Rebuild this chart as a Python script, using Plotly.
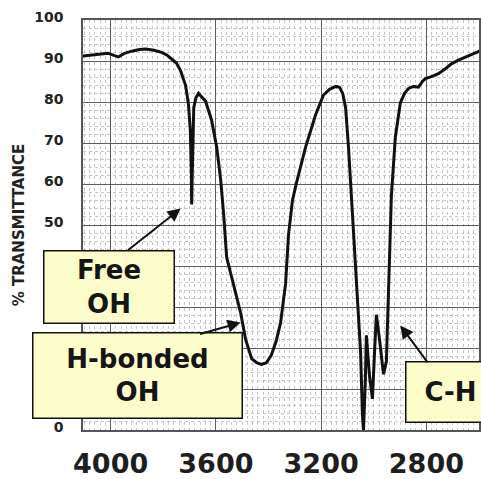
import plotly.graph_objects as go

# Wavenumber (cm-1) and % transmittance
wavenumber = [4110, 4075, 4045, 4010, 3985, 3970, 3950, 3920, 3890, 3867,
              3835, 3806, 3785, 3768, 3750, 3734, 3715, 3704, 3697, 3693,
              3692, 3690, 3687, 3684, 3676, 3666, 3658, 3639, 3616, 3597,
              3582, 3571, 3559, 3533, 3506, 3487, 3464, 3445, 3427, 3408,
              3389, 3370, 3354, 3335, 3324, 3309, 3294, 3259, 3221, 3191,
              3168, 3145, 3130, 3118, 3107, 3096, 3085, 3077, 3066, 3050,
              3043, 3039, 3032, 3028, 3016, 3005, 2997, 2990, 2979, 2963,
              2952, 2944, 2933, 2918, 2899, 2883, 2868, 2849, 2830, 2815,
              2804, 2781, 2754, 2728, 2705, 2678, 2652, 2625, 2598]
transmittance = [91.2, 91.5, 91.7, 91.9, 91.3, 91.0, 91.8, 92.4, 92.8, 92.9,
                 92.6, 92.1, 91.4, 90.5, 89.5, 87.6, 84.0, 79.3, 73.0, 62.0,
                 55.0, 62.0, 74.0, 78.6, 81.0, 82.1, 81.5, 80.2, 75.5, 69.0,
                 61.2, 53.1, 42.1, 35.7, 28.6, 22.1, 17.4, 16.4, 16.0, 16.4,
                 18.3, 21.9, 26.2, 35.7, 47.6, 56.0, 60.2, 69.0, 76.9, 81.7,
                 83.1, 83.8, 83.6, 82.1, 78.6, 69.0, 57.1, 47.6, 35.7, 19.0,
                 3.6, 0.0, 11.9, 23.1, 13.1, 7.6, 19.0, 28.1, 22.6, 13.6,
                 16.7, 33.3, 57.1, 71.4, 79.8, 82.1, 83.3, 83.8, 83.6, 85.0,
                 85.7, 86.2, 86.9, 88.1, 89.3, 90.2, 91.0, 91.7, 92.4]

x_ticks = [4000, 3600, 3200, 2800]
y_ticks = [0, 10, 20, 30, 40, 50, 60, 70, 80, 90, 100]

labels = ["Free<br>OH", "H-bonded<br>OH", "C-H"]
# arrow head (wavenumber, %T) and tail (wavenumber, %T) for each label
arrow_heads = [(3734, 54.0), (3506, 26.2), (2899, 25.5)]
arrow_tails = [(3939, 43.6), (3666, 23.3), (2792, 16.2)]

fig = go.Figure()
fig.add_trace(go.Scatter(x=wavenumber, y=transmittance, mode="lines",
                         line=dict(color="#111111", width=3), showlegend=False,
                         hoverinfo="skip"))

BOX_FONT = dict(family="DejaVu Sans", size=26, color="#151515")
# (paper x centre, paper y centre, width, height)
boxes = [(0.0653, 0.350, 129, 71), (0.138, 0.133, 208, 84), (0.927, 0.0915, 88, 59)]
for text, (bx, by, bw, bh) in zip(labels, boxes):
    fig.add_annotation(x=bx, y=by, xref="paper", yref="paper", text="<b>" + text + "</b>",
                       showarrow=False, width=bw, height=bh, align="center", valign="middle",
                       bgcolor="#FDFCCB", bordercolor="#111111", borderwidth=1.5, borderpad=0,
                       font=BOX_FONT, xanchor="center", yanchor="middle")

for (hx, hy), (tx, ty) in zip(arrow_heads, arrow_tails):
    fig.add_annotation(x=hx, y=hy, ax=tx, ay=ty, xref="x", yref="y", axref="x", ayref="y",
                       text="", showarrow=True, arrowhead=2, arrowsize=1.3, arrowwidth=2,
                       arrowcolor="#111111")

fig.update_layout(
    width=481, height=479,
    margin=dict(l=83, r=0, t=20, b=38),
    paper_bgcolor="white", plot_bgcolor="white",
    xaxis=dict(range=[4105, 2600], tickvals=x_ticks, ticktext=[str(v) for v in x_ticks],
               tickfont=dict(family="DejaVu Sans", size=27, color="#1e1e1e", weight="bold"),
               showgrid=True, gridcolor="#5e5e5e", gridwidth=1.2, dtick=100, tick0=4000,
               ticks="", ticklabelstandoff=9,
               showline=True, linecolor="#555555", linewidth=1.5, mirror=True,
               zeroline=False,
               minor=dict(dtick=20, tick0=4000, showgrid=True, gridcolor="#c4c4c4",
                          griddash="dot", gridwidth=1)),
    yaxis=dict(range=[0, 100], tickvals=y_ticks, ticktext=[str(v) for v in y_ticks],
               tickfont=dict(family="DejaVu Sans", size=14, color="#222222", weight="bold"),
               showgrid=True, gridcolor="#5e5e5e", gridwidth=1.2,
               ticks="", ticklabelstandoff=15, ticklabelshift=-3,
               showline=True, linecolor="#555555", linewidth=1.5, mirror=True,
               zeroline=False,
               title=dict(text="<b>% TRANSMITTANCE</b>", standoff=6,
                          font=dict(family="DejaVu Sans", size=15, color="#222222")),
               minor=dict(dtick=2, showgrid=True, gridcolor="#c4c4c4",
                          griddash="dot", gridwidth=1)),
)

fig.write_html("out.html")
